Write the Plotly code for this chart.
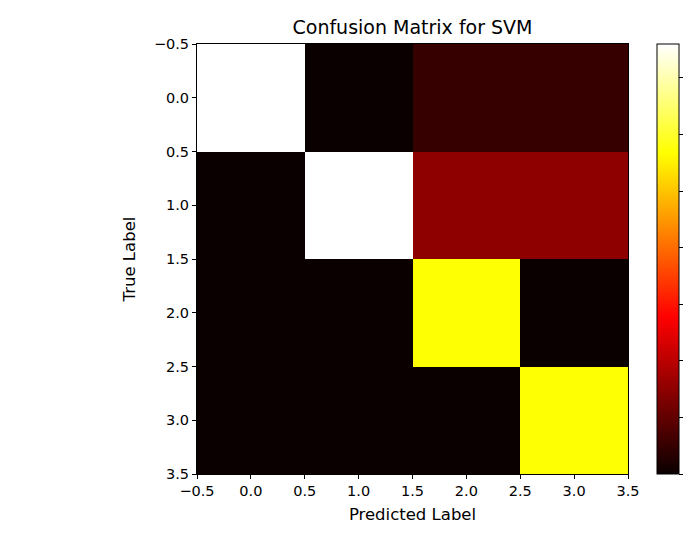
import plotly.graph_objects as go

# Data
pred_labels = [0, 1, 2, 3]
true_labels = [0, 1, 2, 3]
cm = [
    [76, 0, 5, 5],
    [0, 76, 15, 15],
    [0, 0, 57, 0],
    [0, 0, 0, 57],
]
tick_vals = [-0.5, 0.0, 0.5, 1.0, 1.5, 2.0, 2.5, 3.0, 3.5]
tick_text = ["\u22120.5", "0.0", "0.5", "1.0", "1.5", "2.0", "2.5", "3.0", "3.5"]
cbar_ticks = [0, 10, 20, 30, 40, 50, 60, 70]

# matplotlib "hot" colormap
hot = [
    [0.0, "rgb(10,0,0)"],
    [0.365079, "rgb(255,0,0)"],
    [0.746032, "rgb(255,255,0)"],
    [1.0, "rgb(255,255,255)"],
]

W, H = 691, 535
L, R, T, B = 197, 628, 44, 474
FONT = "DejaVu Sans"

fig = go.Figure(
    go.Heatmap(
        z=cm,
        x=pred_labels,
        y=true_labels,
        colorscale=hot,
        zmin=0,
        zmax=76,
        colorbar=dict(
            x=(657 - L) / (R - L),
            xanchor="left",
            xref="paper",
            y=0.5,
            yanchor="middle",
            len=1.0,
            lenmode="fraction",
            thickness=22,
            thicknessmode="pixels",
            xpad=0,
            ypad=0,
            outlinewidth=1,
            outlinecolor="black",
            tickmode="array",
            tickvals=cbar_ticks,
            ticks="outside",
            ticklen=4,
            tickwidth=1,
            tickcolor="black",
            showticklabels=False,
        ),
        hoverinfo="skip",
    )
)

fig.update_layout(
    width=W,
    height=H,
    margin=dict(l=L, r=W - R, t=T, b=H - B, autoexpand=False),
    paper_bgcolor="white",
    plot_bgcolor="white",
    font=dict(family=FONT, size=14.5, color="black"),
    title=dict(
        text="Confusion Matrix for SVM",
        x=(L + R) / 2 / W,
        xanchor="center",
        y=1 - 27 / H,
        yanchor="middle",
        font=dict(family=FONT, size=19, color="black"),
    ),
    xaxis=dict(
        range=[-0.5, 3.5],
        tickmode="array",
        tickvals=tick_vals,
        ticktext=tick_text,
        ticks="outside",
        ticklen=4,
        tickcolor="black",
        showline=True,
        linecolor="black",
        linewidth=1,
        mirror=True,
        showgrid=False,
        zeroline=False,
        title=dict(text="Predicted Label", font=dict(family=FONT, size=16.5), standoff=10),
        tickfont=dict(family=FONT, size=14.5, color="black"),
    ),
    yaxis=dict(
        range=[3.5, -0.5],
        tickmode="array",
        tickvals=tick_vals,
        ticktext=tick_text,
        ticks="outside",
        ticklen=4,
        tickcolor="black",
        showline=True,
        linecolor="black",
        linewidth=1,
        mirror=True,
        showgrid=False,
        zeroline=False,
        title=dict(text="True Label", font=dict(family=FONT, size=16.5), standoff=14),
        tickfont=dict(family=FONT, size=14.5, color="black"),
    ),
)

fig.write_html("out.html")
